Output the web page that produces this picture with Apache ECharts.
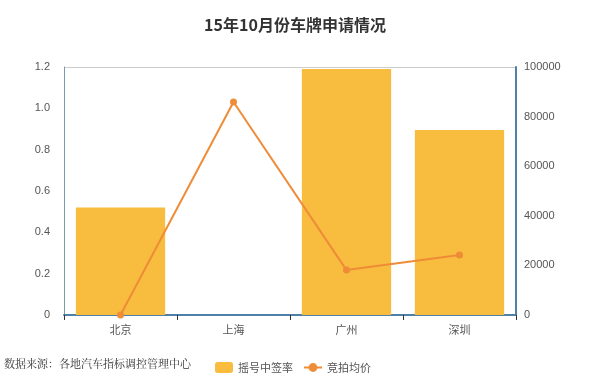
<!DOCTYPE html>
<html><head><meta charset="utf-8">
<script src="https://cdn.jsdelivr.net/npm/echarts@6/dist/echarts.min.js"></script>
<style>html,body{margin:0;padding:0;background:#fff}#c{width:596px;height:390px}</style>
</head><body><div id="c"></div>
<script>
const categories = ['北京', '上海', '广州', '深圳'];
const lotteryRate = [0.52, 0, 1.19, 0.895];
const auctionPrice = [0, 85900, 18100, 24200];
const leftTicks = [0, 1.2, 0.2];
const rightTicks = [0, 100000, 20000];

const chart = echarts.init(document.getElementById('c'));
chart.setOption({
  backgroundColor: '#fff',
  animation: false,
  title: {
    text: '15年10月份车牌申请情况', left: 290, top: 12, textAlign: 'center',
    textStyle: { fontSize: 16, fontWeight: 'bold', color: '#333', fontFamily: 'Noto Sans CJK SC' }
  },
  graphic: [{
    type: 'text', left: 4, top: 358,
    style: { text: '数据来源：各地汽车指标调控管理中心', fontSize: 11, fill: '#333', fontFamily: 'Noto Serif CJK SC, serif' }
  }, {
    type: 'line', shape: { x1: 64, y1: 67.5, x2: 516, y2: 67.5 },
    style: { stroke: '#ccc', lineWidth: 1 }
  }],
  legend: {
    left: 210, top: 357, itemWidth: 18, itemHeight: 11, itemGap: 10,
    textStyle: { fontSize: 11, color: '#555', fontFamily: 'Noto Sans CJK SC' },
    data: [{ name: '摇号中签率', icon: 'roundRect' }, { name: '竞拍均价' }]
  },
  grid: { left: 64, right: 80, top: 67, bottom: 75 },
  xAxis: {
    type: 'category', data: categories, boundaryGap: true,
    axisLine: { lineStyle: { color: '#4F80A8', width: 2 } },
    axisTick: { show: true, alignWithLabel: false, length: 5, lineStyle: { color: '#333', width: 1 } },
    axisLabel: { color: '#555', fontSize: 11, margin: 9, fontFamily: 'Noto Sans CJK SC' }
  },
  yAxis: [{
    type: 'value', min: leftTicks[0], max: leftTicks[1], interval: leftTicks[2],
    axisLine: { show: true, lineStyle: { color: '#7A98B0', width: 1 } },
    axisTick: { show: false },
    splitLine: { show: false },
    axisLabel: { color: '#555', fontSize: 11, margin: 14, formatter: v => (v === 0 ? '0' : v.toFixed(1)) }
  }, {
    type: 'value', min: rightTicks[0], max: rightTicks[1], interval: rightTicks[2],
    axisLine: { show: true, lineStyle: { color: '#4F80A8', width: 2 } },
    axisTick: { show: false },
    splitLine: { show: false },
    axisLabel: { color: '#555', fontSize: 11, margin: 8, formatter: v => String(v) }
  }],
  series: [{
    name: '摇号中签率', type: 'bar', yAxisIndex: 0, data: lotteryRate,
    barWidth: '79%', itemStyle: { color: '#F8BC3F' }
  }, {
    name: '竞拍均价', type: 'line', yAxisIndex: 1, data: auctionPrice,
    symbol: 'circle', symbolSize: 7,
    lineStyle: { color: '#EE8C38', width: 2 }, itemStyle: { color: '#EE8C38' }
  }]
});
</script></body></html>
